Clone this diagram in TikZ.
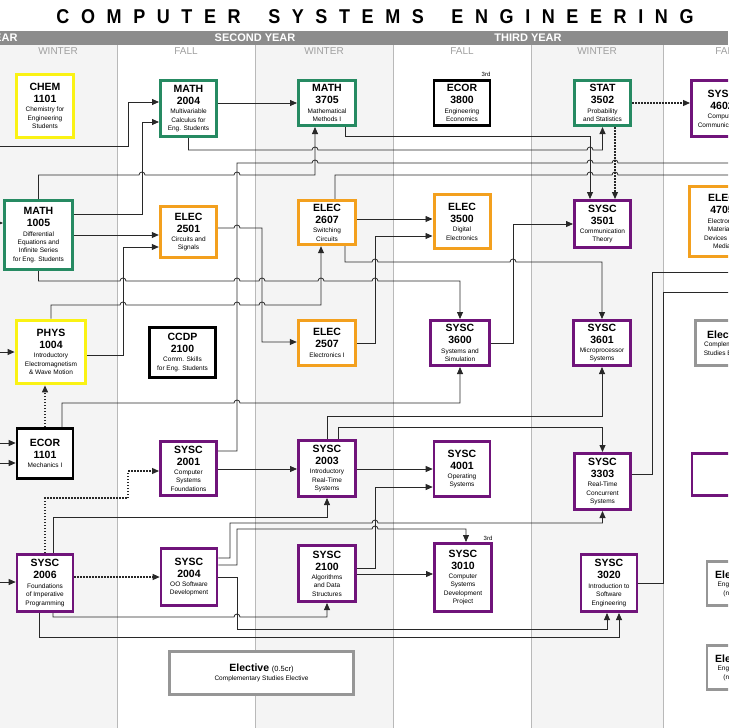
\documentclass[tikz,border=0pt]{standalone}
\usepackage{fontspec}
\setmainfont{Liberation Sans}
\newfontfamily\titlefont[LetterSpace=58,FakeStretch=0.9]{Liberation Sans}
\usetikzlibrary{arrows.meta,positioning,calc}
\usepackage{xcolor}
\definecolor{MathGreen}{RGB}{38,138,98}
\definecolor{SciYellow}{RGB}{250,242,20}
\definecolor{ElecOrange}{RGB}{243,160,30}
\definecolor{SyscPurple}{RGB}{112,20,122}
\definecolor{ElectGrey}{RGB}{150,150,150}
\definecolor{WinterBg}{RGB}{244,244,244}
\definecolor{BarGrey}{RGB}{140,140,140}
\definecolor{RuleGrey}{RGB}{185,185,185}
\definecolor{SeasonGrey}{RGB}{160,160,160}
\definecolor{Wire}{RGB}{40,40,40}
\newcommand{\codefont}{\fontsize{10.5}{12}\selectfont\bfseries}
\newcommand{\descfont}{\fontsize{6.5}{8.4}\selectfont}
\newcommand{\course}[3]{{\codefont #1\\#2\par}\vspace{1pt}{\descfont #3\par}}
\tikzset{
  course/.style={rectangle,draw,fill=white,line width=2.6pt,
                 text width=62pt,align=flush center,inner xsep=-3pt,inner ysep=1pt},
  wh/.style 2 args={minimum width=#1pt-2.6pt,minimum height=#2pt-2.6pt},
  mathc/.style={course,draw=MathGreen},
  scic/.style={course,draw=SciYellow,line width=3.4pt},
  elecc/.style={course,draw=ElecOrange,line width=3pt},
  syscc/.style={course,draw=SyscPurple},
  compc/.style={course,draw=black},
  electc/.style={course,draw=ElectGrey},
  wire/.style={Wire,line width=0.8pt},
  pre/.style={wire,-{Triangle[length=7pt,width=6pt]}},
  coreq/.style={pre,line width=1.2pt,dash pattern=on 1.5pt off 1.5pt},
  hop/.style={insert path={arc[start angle=180,end angle=0,radius=3pt]}},
  season/.style={font=\fontsize{10}{10}\selectfont,text=SeasonGrey},
  yearlbl/.style={font=\fontsize{11}{11}\selectfont\bfseries,text=white},
  tag/.style={font=\fontsize{6}{6}\selectfont,inner sep=0pt},
}
\begin{document}
\begin{tikzpicture}[x=1pt,y=-1pt]
  \useasboundingbox (0,0) rectangle (728,728);
  \clip (0,0) rectangle (728,728);
  % semester columns
  \fill[WinterBg] (0,45) rectangle (117,728);
  \fill[WinterBg] (255,45) rectangle (393,728);
  \fill[WinterBg] (531,45) rectangle (663,728);
  \foreach \x in {117,255,393,531,663}
    \draw[RuleGrey,line width=0.8pt] (\x,45) -- (\x,728);
  \fill[BarGrey] (0,31) rectangle (728,45);
  \node[font=\titlefont\bfseries\fontsize{20}{20}\selectfont] (title) at (375,17)
    {COMPUTER\hspace{11pt} SYSTEMS\hspace{11pt} ENGINEERING};
  \node[yearlbl,anchor=east] (year1) at (21,38) {FIRST YEAR};
  \node[yearlbl] (year2) at (255,38) {SECOND YEAR};
  \node[yearlbl] (year3) at (528,38) {THIRD YEAR};
  \foreach \x/\s [count=\i] in {58/WINTER,186/FALL,324/WINTER,462/FALL,597/WINTER,727/FALL}
    \node[season] (sem\i) at (\x,51) {\s};
  %
  % courses
  \node[scic,wh={60}{66}] (chem1101) at (45,106) {\course{CHEM}{1101}{Chemistry for\\Engineering\\Students}};
  \node[mathc,wh={59}{59}] (math2004) at (188.5,108.5) {\course{MATH}{2004}{Multivariable\\Calculus for\\Eng. Students}};
  \node[mathc,wh={60}{48}] (math3705) at (327,103) {\course{MATH}{3705}{Mathematical\\Methods I}};
  \node[compc,wh={58}{48}] (ecor3800) at (462,103) {\course{ECOR}{3800}{Engineering\\Economics}};
  \node[mathc,wh={59}{48}] (stat3502) at (602.5,103) {\course{STAT}{3502}{Probability\\and Statistics}};
  \node[syscc,wh={64}{59}] (sysc4602) at (722,108.5) {\course{SYSC}{4602}{Computer\\Communications}};
  \node[mathc,wh={71}{72}] (math1005) at (38.5,235) {\course{MATH}{1005}{Differential\\Equations and\\Infinite Series\\for Eng. Students}};
  \node[elecc,wh={59}{54}] (elec2501) at (188.5,232) {\course{ELEC}{2501}{Circuits and\\Signals}};
  \node[elecc,wh={60}{47}] (elec2607) at (327,222.5) {\course{ELEC}{2607}{Switching\\Circuits}};
  \node[elecc,wh={58}{57}] (elec3500) at (462,221.5) {\course{ELEC}{3500}{Digital\\Electronics}};
  \node[syscc,wh={59}{50}] (sysc3501) at (602.5,224) {\course{SYSC}{3501}{Communication\\Theory}};
  \node[elecc,wh={68}{73}] (elec4705) at (722,221.5) {\course{ELEC}{4705}{Electronic\\Materials,\\Devices and\\Media}};
  \node[scic,wh={72}{66}] (phys1004) at (51,352) {\course{PHYS}{1004}{Introductory\\Electromagnetism\\\& Wave Motion}};
  \node[compc,wh={69}{53}] (ccdp2100) at (182.5,352.5) {\course{CCDP}{2100}{Comm. Skills\\for Eng. Students}};
  \node[elecc,wh={60}{48}] (elec2507) at (327,343) {\course{ELEC}{2507}{Electronics I}};
  \node[syscc,wh={62}{48}] (sysc3600) at (460,343) {\course{SYSC}{3600}{Systems and\\Simulation}};
  \node[syscc,wh={60}{48}] (sysc3601) at (602,343) {\course{SYSC}{3601}{Microprocessor\\Systems}};
  \node[electc,wh={66}{48}] (compel) at (727,343) {{\codefont Elective\par}{\descfont Complementary\\Studies Elective\par}};
  \node[compc,wh={58}{53}] (ecor1101) at (45,453.5) {\course{ECOR}{1101}{Mechanics I}};
  \node[syscc,wh={59}{57}] (sysc2001) at (188.5,468.5) {\course{SYSC}{2001}{Computer\\Systems\\Foundations}};
  \node[syscc,wh={60}{59}] (sysc2003) at (327,468.5) {\course{SYSC}{2003}{Introductory\\Real-Time\\Systems}};
  \node[syscc,wh={58}{58}] (sysc4001) at (462,469) {\course{SYSC}{4001}{Operating\\Systems}};
  \node[syscc,wh={59}{59}] (sysc3303) at (602.5,481.5) {\course{SYSC}{3303}{Real-Time\\Concurrent\\Systems}};
  \node[syscc,wh={69}{45}] (blank) at (725,474.5) {};
  \node[syscc,wh={58}{60}] (sysc2006) at (45,583) {\course{SYSC}{2006}{Foundations\\of Imperative\\Programming}};
  \node[syscc,wh={58}{60}] (sysc2004) at (189,577) {\course{SYSC}{2004}{OO Software\\Development}};
  \node[syscc,wh={60}{59}] (sysc2100) at (327,573.5) {\course{SYSC}{2100}{Algorithms\\and Data\\Structures}};
  \node[syscc,wh={60}{71}] (sysc3010) at (463,577.5) {\course{SYSC}{3010}{Computer\\Systems\\Development\\Project}};
  \node[syscc,wh={58}{60}] (sysc3020) at (609,583) {\course{SYSC}{3020}{Introduction to\\Software\\Engineering}};
  \node[electc,wh={187}{46},text width=180pt] (compel2) at (261.5,673) {{\codefont Elective} {\fontsize{7.5}{9}\selectfont(0.5cr)}\par{\descfont Complementary Studies Elective\par}};
  \node[electc,wh={58}{47}] (engel1) at (735,583.5) {{\codefont Elective\par}{\descfont Engineering\\(note A)\par}};
  \node[electc,wh={58}{47}] (engel2) at (735,667.5) {{\codefont Elective\par}{\descfont Engineering\\(note A)\par}};
  \node[tag] (tag3800) at (486,74) {3rd};
  \node[tag] (tag3010) at (488,538) {3rd};
  %
  % loose ends
  \coordinate (inA) at (-2,146);
  \coordinate (inB) at (-6,223);
  \coordinate (inC) at (-2,352);
  \coordinate (inD) at (-2,443);
  \coordinate (inE) at (-2,463);
  \coordinate (inF) at (-2,582);
  \coordinate (outA) at (735,163);
  \coordinate (outB) at (735,175);
  \coordinate (outC) at (735,272);
  \coordinate (outD) at (735,292);
  %
  % prerequisites
  \draw[pre] (inA) -- (128,146) -- (128,102) -- (128,102 -| math2004.west);
  \draw[pre] (inB) -- (inB -| math1005.west);
  \draw[pre] (inC) -- (phys1004.west);
  \draw[pre] (inD) -- (inD -| ecor1101.west);
  \draw[pre] (inE) -- (inE -| ecor1101.west);
  \draw[pre] (inF) -- (inF -| sysc2006.west);
  \draw[pre] (math1005.east |- 0,214) -| (142,122) -- (142,122 -| math2004.west);
  \draw[pre] (math1005.east) -- (math1005.east -| elec2501.west);
  \draw[pre] (phys1004.east |- 0,355) -| (123,247) -- (123,247 -| elec2501.west);
  \draw[pre] (math1005.north) -- (38.5,175) -- (139,175) [hop] -- (234,175) [hop]
    -- (315,175) -- (315,0 |- math3705.south);
  \draw[pre] (math3705.west -| math2004.east) -- (math3705.west);
  \draw[pre] (math2004.south) -- (188.5,150) -- (312,150) [hop] -- (587,150) [hop]
    -- (stat3502.south |- 0,150) -- (stat3502.south);
  \draw[pre] (345,0 |- math3705.south) -- (345,136) -| (590,0 |- sysc3501.north);
  \draw[wire] (sysc2001.east |- 0,451) -- (237,451) -- (237,163) -- (312,163) [hop]
    -- (587,163) [hop] -- (612,163) [hop] -- (outA);
  \draw[wire] (335,0 |- elec2607.north) -- (335,175) -- (587,175) [hop] -- (612,175) [hop] -- (outB);
  \draw[pre] (elec2501.east |- 0,228) -- (234,228) [hop] -- (262,228) -- (262,342)
    -- (262,342 -| elec2507.west);
  \draw[pre] (math1005.south) -- (38.5,281) -- (120,281) [hop] -- (234,281) [hop]
    -- (259,281) [hop] -- (318,281) [hop] -- (372,281) [hop]
    -- (sysc3600.north |- 0,281) -- (sysc3600.north);
  \draw[pre] (phys1004.north) -- (51,305) -- (120,305) [hop] -- (234,305) [hop]
    -- (259,305) [hop] -- (321,305) -- (321,0 |- elec2607.south);
  \draw[pre] (elec2607.east |- 0,219) -- (elec3500.west |- 0,219);
  \draw[pre] (elec2507.east) -- (375,343) -- (375,236) -- (375,236 -| elec3500.west);
  \draw[pre] (345,0 |- elec2607.south) -- (345,262) -- (372,262) [hop] -- (510,262) [hop]
    -- (sysc3601.north |- 0,262) -- (sysc3601.north);
  \draw[pre] (sysc3600.east) -- (513,343) |- (sysc3501.west);
  \draw[pre] (62,0 |- ecor1101.north) -- (62,403) -- (234,403) [hop]
    -- (sysc3600.south |- 0,403) -- (sysc3600.south);
  \draw[pre] (sysc2003.north) -- (327,416) -| (sysc3601.south);
  \draw[pre] (338,0 |- sysc2003.north) -- (338,427) -| (sysc3303.north);
  \draw[pre] (sysc2001.east |- 0,469) -- (sysc2003.west |- 0,469);
  \draw[pre] (sysc2003.east |- 0,469) -- (sysc4001.west |- 0,469);
  \draw[pre] (sysc2100.east |- 0,568) -- (375,568) -- (375,487) -- (375,487 -| sysc4001.west);
  \draw[pre] (sysc2100.east |- 0,574) -- (sysc3010.west |- 0,574);
  \draw[pre] (53,0 |- sysc2006.north) -- (53,517) -| (sysc2003.south);
  \draw[pre] (sysc2004.east |- 0,558) -- (230,558) -- (230,523) -- (372,523) [hop]
    -- (sysc3303.south |- 0,523) -- (sysc3303.south);
  \draw[pre] (sysc2004.east |- 0,565) -- (237,565) -- (237,529) -- (372,529) [hop]
    -- (466,529) -- (466,0 |- sysc3010.north);
  \draw[pre] (sysc2004.east) -- (237,577) -- (237,629) -| (607,0 |- sysc3020.south);
  \draw[pre] (53,0 |- sysc2006.south) -- (53,617) -- (234,617) [hop]
    -- (sysc2100.south |- 0,617) -- (sysc2100.south);
  \draw[pre] (39,0 |- sysc2006.south) -- (39,637) -| (619,0 |- sysc3020.south);
  \draw[wire] (sysc3303.east |- 0,474) -- (652,474) |- (outC);
  \draw[wire] (sysc3020.east) -- (663,583) |- (outD);
  %
  % corequisites
  \draw[coreq] (615,0 |- stat3502.south) -- (615,0 |- sysc3501.north);
  \draw[coreq] (stat3502.east) -- (stat3502.east -| sysc4602.west);
  \draw[coreq] (ecor1101.north) -- (ecor1101.north |- phys1004.south);
  \draw[coreq] (sysc2006.north) -- (45,498) -| (128,471) -- (128,471 -| sysc2001.west);
  \draw[coreq] (sysc2006.east |- 0,577) -- (sysc2004.west);
\end{tikzpicture}
\end{document}
